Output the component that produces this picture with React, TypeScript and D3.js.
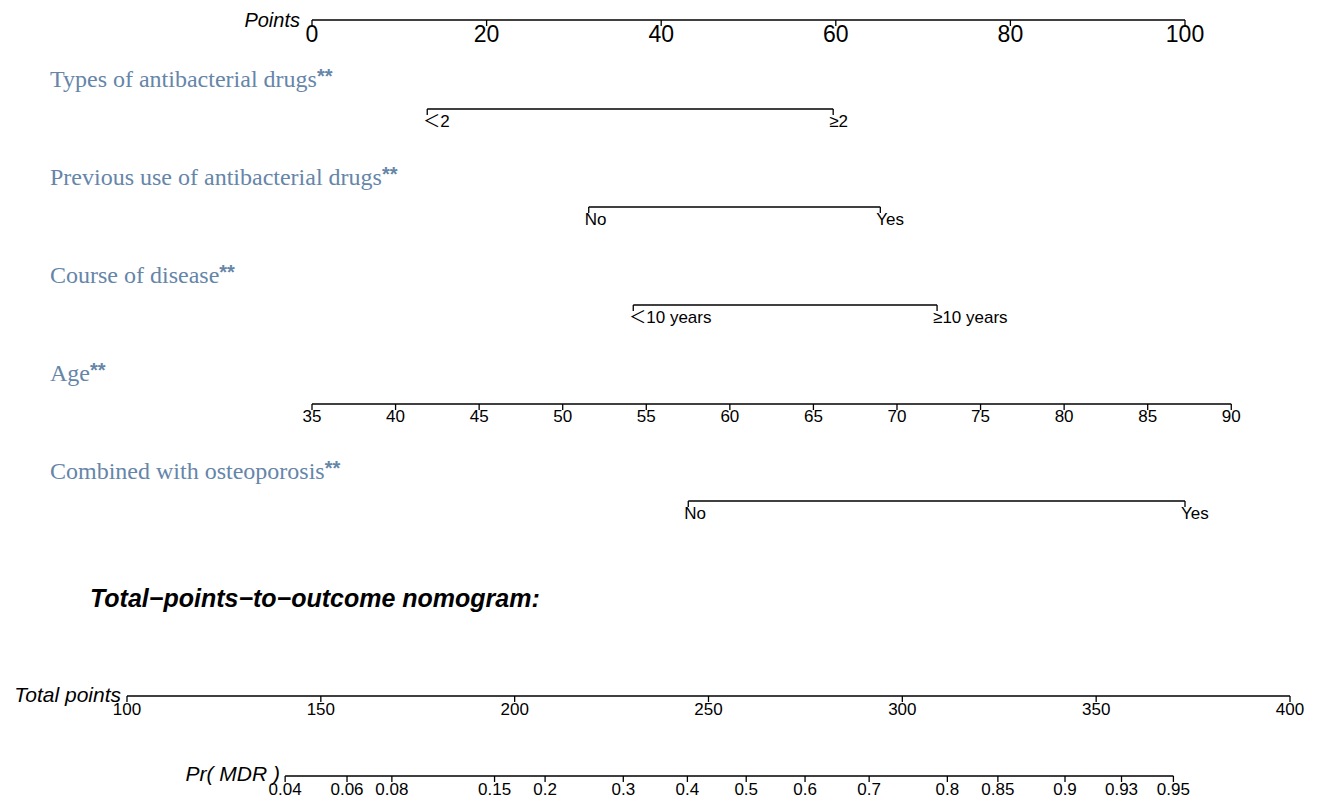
import React from "react";
import * as d3 from "d3";

// ---- data ----
const pointTicks = [0, 20, 40, 60, 80, 100];
const rowTitles = [
  "Types of antibacterial drugs",
  "Previous use of antibacterial drugs",
  "Course of disease",
  "Age",
  "Combined with osteoporosis",
];
const typesLabels = ["＜2", "≥2"];
const typesPoints = [13.2, 59.7];
const previousLabels = ["No", "Yes"];
const previousPoints = [31.7, 65.1];
const courseLabels = ["＜10 years", "≥10 years"];
const coursePoints = [36.8, 71.6];
const ageTicks = [35, 40, 45, 50, 55, 60, 65, 70, 75, 80, 85, 90];
const ageRange = [35, 90];
const agePointsRange = [0, 105.3];
const osteoLabels = ["No", "Yes"];
const osteoPoints = [43.1, 100];
const totalTicks = [100, 150, 200, 250, 300, 350, 400];
const prTicks = [0.04, 0.06, 0.08, 0.15, 0.2, 0.3, 0.4, 0.5, 0.6, 0.7, 0.8, 0.85, 0.9, 0.93, 0.95];
const lpIntercept = -6.94; // logit at 0 total points
const lpSlope = 0.02672; // logit per total point

const W = 1319;
const H = 800;
const TITLE_COLOR = "#6585a9";
const SANS = "'Liberation Sans', Arial, 'Noto Sans CJK SC', sans-serif";
const SERIF = "'Liberation Serif', 'Times New Roman', serif";

export default function App() {
  const xPts = d3.scaleLinear().domain([0, 100]).range([312, 1185]);
  const ageToPts = d3.scaleLinear().domain(ageRange).range(agePointsRange);
  const xTot = d3.scaleLinear().domain([100, 400]).range([127, 1290]);
  const prToTotal = (p: number) => (Math.log(p / (1 - p)) - lpIntercept) / lpSlope;

  const rowY = [109, 207, 305, 404, 501];
  const titleY = [87, 185, 283, 381, 479];

  const catRows = [
    { labels: typesLabels, pts: typesPoints, row: 0 },
    { labels: previousLabels, pts: previousPoints, row: 1 },
    { labels: courseLabels, pts: coursePoints, row: 2 },
    { labels: osteoLabels, pts: osteoPoints, row: 4 },
  ];

  const stroke = "#000";
  const sw = 1.3;
  const small = 17;

  return (
    <svg
      width={W}
      height={H}
      style={{ position: "absolute", left: 0, top: 0, background: "#fff" }}
    >
      {/* Points axis */}
      <text x={300} y={27} fontFamily={SANS} fontStyle="italic" fontSize={20} textAnchor="end">
        Points
      </text>
      <line x1={xPts(0)} x2={xPts(100)} y1={20} y2={20} stroke={stroke} strokeWidth={sw} />
      {pointTicks.map((t) => (
        <g key={t}>
          <line x1={xPts(t)} x2={xPts(t)} y1={20} y2={26} stroke={stroke} strokeWidth={sw} />
          <text x={xPts(t)} y={42} fontFamily={SANS} fontSize={23} textAnchor="middle">
            {t}
          </text>
        </g>
      ))}

      {/* Row titles */}
      {rowTitles.map((t, i) => (
        <text key={t} x={50} y={titleY[i]} fontFamily={SERIF} fontSize={24} fill={TITLE_COLOR}>
          {t}
          <tspan fontFamily={SANS} fontWeight="bold" fontSize={20} dy={-4}>**</tspan>
        </text>
      ))}

      {/* Categorical rows */}
      {catRows.map((r) => {
        const y = rowY[r.row];
        const x0 = xPts(r.pts[0]);
        const x1 = xPts(r.pts[1]);
        return (
          <g key={r.row}>
            <line x1={x0} x2={x1} y1={y} y2={y} stroke={stroke} strokeWidth={sw} />
            {r.pts.map((p, j) => (
              <g key={j}>
                <line x1={xPts(p)} x2={xPts(p)} y1={y} y2={y + 6} stroke={stroke} strokeWidth={sw} />
                <text x={xPts(p) - 4} y={y + 18} fontFamily={SANS} fontSize={small} textAnchor="start">
                  {r.labels[j]}
                </text>
              </g>
            ))}
          </g>
        );
      })}

      {/* Age axis */}
      <line
        x1={xPts(ageToPts(ageRange[0]))}
        x2={xPts(ageToPts(ageRange[1]))}
        y1={rowY[3]}
        y2={rowY[3]}
        stroke={stroke}
        strokeWidth={sw}
      />
      {ageTicks.map((a) => (
        <g key={a}>
          <line
            x1={xPts(ageToPts(a))}
            x2={xPts(ageToPts(a))}
            y1={rowY[3]}
            y2={rowY[3] + 6}
            stroke={stroke}
            strokeWidth={sw}
          />
          <text x={xPts(ageToPts(a))} y={rowY[3] + 18} fontFamily={SANS} fontSize={small} textAnchor="middle">
            {a}
          </text>
        </g>
      ))}

      {/* Section title */}
      <text x={90} y={607} fontFamily={SANS} fontWeight="bold" fontStyle="italic" fontSize={25}>
        Total−points−to−outcome nomogram:
      </text>

      {/* Total points axis */}
      <text x={121} y={702} fontFamily={SANS} fontStyle="italic" fontSize={21} textAnchor="end">
        Total points
      </text>
      <line x1={xTot(100)} x2={xTot(400)} y1={696} y2={696} stroke={stroke} strokeWidth={sw} />
      {totalTicks.map((t) => (
        <g key={t}>
          <line x1={xTot(t)} x2={xTot(t)} y1={696} y2={702} stroke={stroke} strokeWidth={sw} />
          <text x={xTot(t)} y={715} fontFamily={SANS} fontSize={small} textAnchor="middle">
            {t}
          </text>
        </g>
      ))}

      {/* Pr(MDR) axis */}
      <text x={280} y={781} fontFamily={SANS} fontStyle="italic" fontSize={21} textAnchor="end">
        Pr( MDR )
      </text>
      <line
        x1={xTot(prToTotal(prTicks[0]))}
        x2={xTot(prToTotal(prTicks[prTicks.length - 1]))}
        y1={776}
        y2={776}
        stroke={stroke}
        strokeWidth={sw}
      />
      {prTicks.map((p) => (
        <g key={p}>
          <line
            x1={xTot(prToTotal(p))}
            x2={xTot(prToTotal(p))}
            y1={776}
            y2={782}
            stroke={stroke}
            strokeWidth={sw}
          />
          <text x={xTot(prToTotal(p))} y={795} fontFamily={SANS} fontSize={small} textAnchor="middle">
            {p}
          </text>
        </g>
      ))}
    </svg>
  );
}
